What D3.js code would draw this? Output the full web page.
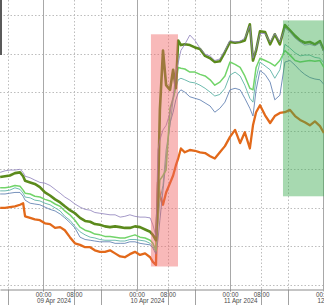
<!DOCTYPE html>
<html>
<head>
<meta charset="utf-8">
<script src="https://cdn.jsdelivr.net/npm/d3@7"></script>
<style>
html, body { margin: 0; padding: 0; background: #fff; overflow: hidden; }
svg { display: block; }
</style>
</head>
<body>
<svg id="svg"></svg>
<script>
var width = 324, height = 305;

// hours after 09 Apr 2024 00:00 (UTC)
var hours = [-11.0, -9.75, -8.5, -7.2, -5.9, -5.1, -4.6, -3.3, -2.1, -0.8,
	0.5, 1.8, 3.1, 4.4, 5.6, 6.9, 8.2, 9.5, 10.8, 12.1,
	13.3, 14.6, 15.9, 17.2, 18.5, 19.8, 21.0, 22.3, 23.6, 24.9,
	26.2, 27.5, 28.2, 29.0, 29.5, 30.0, 30.8, 31.6, 32.6, 33.4,
	34.1, 34.7, 35.4, 36.4, 37.7, 39.0, 40.3, 41.6, 42.9, 44.1,
	45.4, 46.7, 48.0, 49.3, 50.6, 51.8, 53.1, 53.9, 54.7, 55.7,
	57.0, 58.3, 59.5, 60.8, 62.1, 63.4, 64.7, 66.0, 67.2, 68.5,
	69.8, 71.1, 72.1];

// % change
var olive = [-1.10,-1.09,-1.08,-1.05,-1.04,-1.09,-1.15,-1.17,-1.19,-1.23,
	-1.30,-1.34,-1.39,-1.43,-1.48,-1.53,-1.57,-1.63,-1.67,-1.68,
	-1.71,-1.72,-1.74,-1.75,-1.74,-1.75,-1.76,-1.76,-1.74,-1.75,
	-1.78,-1.81,-1.85,-1.92,-1.40,-0.23,0.54,0.09,0.03,0.29,
	0.05,0.67,0.61,0.62,0.61,0.58,0.56,0.47,0.44,0.39,
	0.40,0.52,0.65,0.64,0.65,0.67,0.88,0.41,0.54,0.79,
	0.78,0.62,0.75,0.62,0.87,0.80,0.73,0.67,0.64,0.65,
	0.62,0.66,0.54];
var purple = [-1.04,-1.02,-1.01,-1.01,-1.00,-1.04,-1.09,-1.11,-1.14,-1.17,
	-1.18,-1.21,-1.26,-1.31,-1.36,-1.40,-1.45,-1.49,-1.52,-1.53,
	-1.56,-1.57,-1.58,-1.59,-1.59,-1.62,-1.61,-1.59,-1.61,-1.62,
	-1.62,-1.63,-1.72,-1.87,-0.75,-0.62,-0.49,-0.43,-0.27,-0.06,
	0.26,0.38,0.54,0.62,0.74,0.67,0.57,0.49,0.47,0.41,
	0.43,0.54,0.67,0.65,0.66,0.70,0.86,0.44,0.56,0.76,
	0.76,0.65,0.76,0.65,0.83,0.78,0.70,0.65,0.61,0.62,
	0.60,0.64,0.52];
var lightGreen = [-1.24,-1.24,-1.23,-1.21,-1.22,-1.27,-1.31,-1.32,-1.35,-1.36,
	-1.39,-1.41,-1.45,-1.48,-1.54,-1.59,-1.66,-1.75,-1.79,-1.81,
	-1.84,-1.85,-1.87,-1.87,-1.88,-1.89,-1.89,-1.87,-1.85,-1.88,
	-1.89,-1.92,-1.96,-2.05,-1.59,-1.14,-1.08,-1.01,-0.21,-0.08,
	0.09,0.32,0.31,0.30,0.26,0.26,0.23,0.21,0.16,0.09,
	0.13,0.21,0.39,0.36,0.32,0.21,0.05,0.03,0.32,0.44,
	0.41,0.38,0.34,0.41,0.54,0.48,0.41,0.39,0.40,0.41,
	0.40,0.41,0.32];
var teal = [-1.28,-1.28,-1.27,-1.24,-1.26,-1.31,-1.36,-1.37,-1.40,-1.41,
	-1.44,-1.46,-1.50,-1.54,-1.61,-1.66,-1.74,-1.81,-1.85,-1.88,
	-1.89,-1.91,-1.92,-1.92,-1.92,-1.93,-1.93,-1.91,-1.91,-1.92,
	-1.93,-1.96,-2.00,-2.07,-1.72,-1.40,-1.21,-0.75,-0.43,-0.10,
	0.05,0.16,0.18,0.16,0.13,0.12,0.09,0.05,0.00,-0.05,
	-0.03,0.05,0.22,0.26,0.21,0.09,-0.08,-0.13,0.18,0.39,
	0.34,0.29,0.18,0.29,0.62,0.57,0.51,0.47,0.48,0.48,
	0.45,0.44,0.38];
var blue = [-1.32,-1.32,-1.31,-1.30,-1.30,-1.35,-1.40,-1.44,-1.45,-1.46,
	-1.49,-1.52,-1.54,-1.58,-1.63,-1.69,-1.76,-1.88,-1.91,-1.92,
	-1.93,-1.94,-1.94,-1.94,-1.96,-1.96,-1.96,-1.94,-1.94,-1.96,
	-1.97,-1.98,-2.02,-2.10,-1.92,-1.66,-1.27,-0.88,-0.40,-0.26,
	-0.10,-0.01,0.03,0.00,-0.06,-0.08,-0.10,-0.14,-0.18,-0.26,
	-0.21,-0.13,0.03,0.05,0.03,-0.08,-0.21,-0.31,0.03,0.28,
	0.23,0.13,-0.10,-0.04,0.39,0.41,0.35,0.28,0.23,0.19,
	0.17,0.16,0.10];
var orange = [-1.50,-1.50,-1.49,-1.48,-1.46,-1.44,-1.61,-1.63,-1.65,-1.66,
	-1.70,-1.71,-1.76,-1.75,-1.79,-1.88,-1.96,-1.98,-2.01,-2.01,
	-2.05,-2.07,-2.07,-2.05,-2.09,-2.13,-2.14,-2.10,-2.07,-2.11,
	-2.09,-2.14,-2.20,-2.24,-1.17,-1.34,-1.46,-1.30,-1.18,-1.08,
	-0.95,-0.86,-0.73,-0.78,-0.75,-0.76,-0.78,-0.79,-0.83,-0.86,
	-0.78,-0.70,-0.58,-0.49,-0.66,-0.52,-0.73,-0.43,-0.26,-0.17,
	-0.30,-0.40,-0.31,-0.27,-0.26,-0.23,-0.31,-0.36,-0.39,-0.43,
	-0.38,-0.44,-0.53];

var dayStarts = [0, 24, 48, 72];
var labelHours = [0, 8];
var minorGridHours = [-9, 8, 15, 32, 39, 56, 63];
var yGrid = [-2.5, -2, -1.5, -1, -0.5, 0, 0.5, 1];
// [from hour, to hour, top %, bottom %]
var shockBand = [27.7, 34.65, 0.75, -2.26];
var calmBand = [61.6, 74, 0.93, -1.35];

var t0 = Date.UTC(2024, 3, 9);
function toDate(h) { return new Date(t0 + h * 3600e3); }

var svg = d3.select("#svg")
	.attr("width", width)
	.attr("height", height);

var x = d3.scaleUtc()
	.domain([toDate(-11.04), toDate(72.13)])
	.range([0, width]);
var y = d3.scaleLinear()
	.domain([-2.5, 1])
	.range([285, 15]);
var axisY = 289.5;

// grid
svg.append("g").selectAll("line")
	.data(yGrid)
	.enter().append("line")
	.attr("x1", 0).attr("x2", width)
	.attr("y1", function(d) { return Math.round(y(d)) + 0.5; })
	.attr("y2", function(d) { return Math.round(y(d)) + 0.5; })
	.attr("stroke", "#bdbdbd")
	.attr("stroke-dasharray", "1.5,2");

svg.append("g").selectAll("line")
	.data(minorGridHours)
	.enter().append("line")
	.attr("x1", function(d) { return Math.round(x(toDate(d))) + 0.5; })
	.attr("x2", function(d) { return Math.round(x(toDate(d))) + 0.5; })
	.attr("y1", 0).attr("y2", axisY)
	.attr("stroke", "#bdbdbd")
	.attr("stroke-dasharray", "1.5,2");

svg.append("g").selectAll("line")
	.data(dayStarts)
	.enter().append("line")
	.attr("x1", function(d) { return Math.round(x(toDate(d))) + 0.5; })
	.attr("x2", function(d) { return Math.round(x(toDate(d))) + 0.5; })
	.attr("y1", 0).attr("y2", axisY)
	.attr("stroke", "#a8a8a8");

// series
var series = [
	{ values: orange, color: "#e2691a", w: 2.3 },
	{ values: blue, color: "#6784b4", w: 0.9 },
	{ values: teal, color: "#5fb3a6", w: 0.9 },
	{ values: lightGreen, color: "#72d46a", w: 1.5 },
	{ values: olive, color: "#5b8a1c", w: 2.6 },
	{ values: purple, color: "#8d7fba", w: 0.8 }
];

var line = d3.line()
	.x(function(d, i) { return x(toDate(hours[i])); })
	.y(function(d) { return y(d); });

svg.append("g").selectAll("path")
	.data(series)
	.enter().append("path")
	.attr("d", function(d) { return line(d.values); })
	.attr("fill", "none")
	.attr("stroke", function(d) { return d.color; })
	.attr("stroke-width", function(d) { return d.w; })
	.attr("stroke-linejoin", "round");

// highlight bands
function band(b, color, op) {
	svg.append("rect")
		.attr("x", x(toDate(b[0])))
		.attr("width", x(toDate(b[1])) - x(toDate(b[0])))
		.attr("y", y(b[2]))
		.attr("height", y(b[3]) - y(b[2]))
		.attr("fill", color)
		.attr("fill-opacity", op);
}
band(shockBand, "#f06464", 0.45);
band(calmBand, "#3caa50", 0.45);

// x axis
var tickDates = [];
dayStarts.forEach(function(d) {
	labelHours.forEach(function(h) { tickDates.push(toDate(d + h)); });
});

var xAxis = d3.axisBottom(x)
	.tickValues(tickDates)
	.tickFormat(d3.utcFormat("%H:%M"))
	.tickSize(2)
	.tickSizeOuter(0)
	.tickPadding(1);

var gx = svg.append("g")
	.attr("transform", "translate(0," + axisY + ")")
	.call(xAxis);
gx.select(".domain").attr("stroke", "#8a8a8a");
gx.selectAll(".tick line").attr("stroke", "#8a8a8a");
gx.selectAll("text")
	.attr("fill", "#4a4a4a")
	.style("font-family", "Liberation Sans, Arial, sans-serif")
	.style("font-size", "6.3px");

// separators under the axis
svg.append("g").selectAll("line")
	.data(minorGridHours)
	.enter().append("line")
	.attr("x1", function(d) { return Math.round(x(toDate(d))) + 0.5; })
	.attr("x2", function(d) { return Math.round(x(toDate(d))) + 0.5; })
	.attr("y1", axisY).attr("y2", height)
	.attr("stroke", "#8a8a8a")
	.attr("stroke-width", 0.8);

svg.append("g").selectAll("text")
	.data(dayStarts)
	.enter().append("text")
	.attr("x", function(d) { return x(toDate(d)) - 6; })
	.attr("y", 302.5)
	.attr("fill", "#4a4a4a")
	.style("font-family", "Liberation Sans, Arial, sans-serif")
	.style("font-size", "6.3px")
	.text(function(d) { return d3.utcFormat("%d %b %Y")(toDate(d)); });

// left panel edge
svg.append("line")
	.attr("x1", 1).attr("x2", 1)
	.attr("y1", 0).attr("y2", 55)
	.attr("stroke", "#5a5a5a")
	.attr("stroke-width", 2);
</script>
</body>
</html>
